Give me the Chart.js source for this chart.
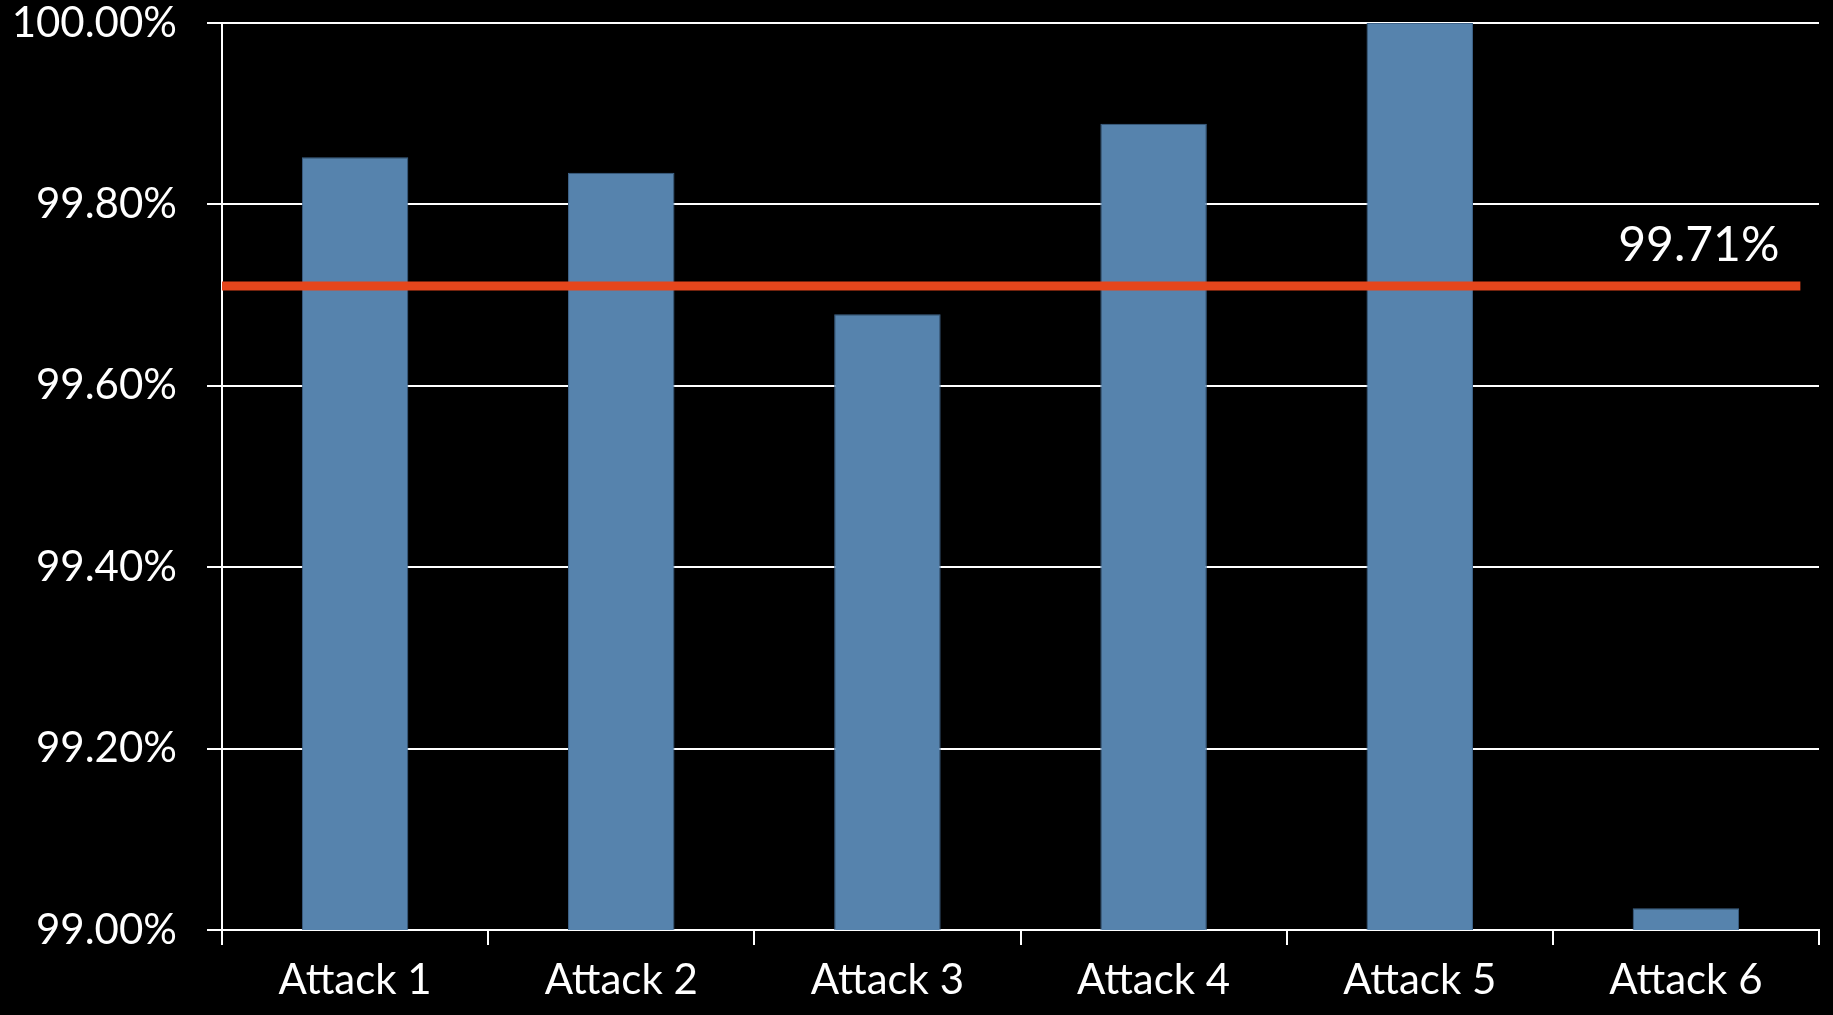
<!DOCTYPE html>
<html>
<head>
<meta charset="utf-8">
<script src="https://cdn.jsdelivr.net/npm/chart.js@4"></script>
<style>
  html, body { margin: 0; padding: 0; background: #000; }
  #wrap { width: 1833px; height: 1015px; position: relative; }
</style>
</head>
<body>
<div id="wrap"><canvas id="attackChart"></canvas></div>
<script>
// Dati del grafico
const categories = ['Attack 1', 'Attack 2', 'Attack 3', 'Attack 4', 'Attack 5', 'Attack 6'];
const successRates = [99.852, 99.835, 99.679, 99.889, 100.0, 99.024];
const averageRate = 99.71;
const averageSpan = [0, 5.93]; // da inizio asse fino quasi alla fine
const yTicks = [99.0, 99.2, 99.4, 99.6, 99.8, 100.0];

const FONT = { family: 'Lato, "Open Sans", sans-serif', size: 42 };
const LABEL_SIZE = 48;

// Etichetta del valore medio sopra la linea rossa
const avgLabelPlugin = {
    id: 'avgLabel',
    afterDatasetsDraw(chart) {
        const meta = chart.getDatasetMeta(1);
        const last = meta.data[meta.data.length - 1];
        if (!last) return;
        const ctx = chart.ctx;
        ctx.save();
        ctx.font = `${LABEL_SIZE}px ${FONT.family}`;
        ctx.fillStyle = '#ffffff';
        ctx.textAlign = 'right';
        ctx.textBaseline = 'middle';
        ctx.fillText(averageRate.toFixed(2) + '%', last.x - 21, last.y - 41);
        ctx.restore();
    }
};

new Chart(document.getElementById('attackChart'), {
    type: 'bar',
    data: {
        labels: categories,
        datasets: [
            {
                type: 'bar',
                data: successRates,
                backgroundColor: '#5683AD',
                borderColor: '#3E6389',
                borderWidth: 1,
                barPercentage: 0.4,
                categoryPercentage: 1.0,
                grouped: false,
                order: 2
            },
            {
                type: 'line',
                data: averageSpan.map(x => ({ x: x, y: averageRate })),
                xAxisID: 'x2',
                borderColor: '#E5461C',
                borderWidth: 9,
                pointRadius: 0,
                fill: false,
                order: 1
            }
        ]
    },
    options: {
        responsive: true,
        maintainAspectRatio: false,
        animation: false,
        layout: { padding: { top: 23, right: 14, left: 0, bottom: 0 } },
        plugins: {
            legend: { display: false },
            tooltip: { enabled: false }
        },
        scales: {
            x: {
                grid: {
                    display: true,
                    offset: true,
                    drawOnChartArea: false,
                    drawTicks: true,
                    tickLength: 15,
                    color: '#ffffff',
                    lineWidth: 2
                },
                border: { display: true, color: '#ffffff', width: 2 },
                ticks: { color: '#ffffff', font: FONT, padding: 10, maxRotation: 0 },
                afterFit(scale) {
                    scale.height = 85;
                    scale.paddingLeft = 0;
                    scale.paddingRight = 0;
                }
            },
            x2: {
                type: 'linear',
                display: false,
                offset: false,
                min: 0,
                max: categories.length
            },
            y: {
                min: 99.0,
                max: 100.0,
                afterBuildTicks(scale) { scale.ticks = yTicks.map(v => ({ value: v })); },
                grid: {
                    color: '#ffffff',
                    lineWidth: 2,
                    tickLength: 15
                },
                border: { display: true, color: '#ffffff', width: 2 },
                ticks: {
                    color: '#ffffff',
                    font: FONT,
                    padding: 30,
                    callback: v => Number(v).toFixed(2) + '%'
                },
                afterFit(scale) {
                    scale.width = 222;
                    scale.paddingTop = 0;
                    scale.paddingBottom = 0;
                }
            }
        }
    },
    plugins: [avgLabelPlugin]
});
</script>
</body>
</html>
